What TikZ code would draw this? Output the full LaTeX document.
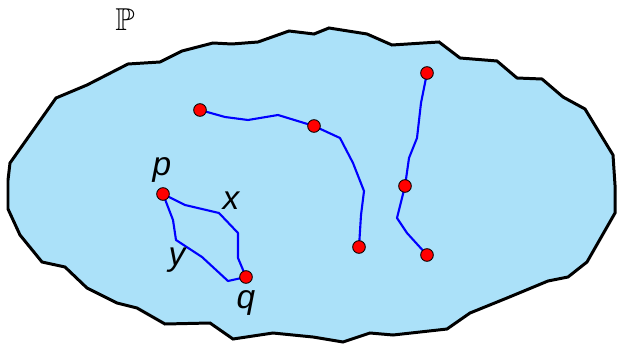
\documentclass[tikz,border=0pt]{standalone}
\usepackage{amssymb}
\usepackage{fontspec}
\setsansfont{Liberation Sans}
\definecolor{regionblue}{HTML}{ABE1F9}
\definecolor{dotred}{HTML}{FF0000}
\begin{document}
\begin{tikzpicture}[x=0.02cm,y=-0.02cm,
  region/.style={draw=black,line width=1.7pt,fill=regionblue,line join=miter},
  curve/.style={draw=blue,line width=1.2pt,line join=round},
  pt/.style={circle,draw=black,line width=0.5pt,fill=dotred,inner sep=0pt,minimum size=7.2pt},
  lbl/.style={font=\fontsize{19}{21}\selectfont\sffamily\itshape,inner sep=0pt}]
\useasboundingbox (0,0) rectangle (618,344);
% region outline
\draw[region] (10,163) -- (56,98) -- (87,85) -- (128,64) -- (160,62) -- (182,51) -- (213,43) -- (232,44) -- (258,42) -- (289,31) -- (314,34) -- (329,28) -- (367,34) -- (392,45) -- (439,42) -- (460,58) -- (497,61) -- (517,78) -- (542,79) -- (563,97) -- (585,109) -- (613,155) -- (615,185) -- (615,213) -- (587,262) -- (568,277) -- (548,281) -- (507,298) -- (470,313) -- (447,329) -- (393,335) -- (370,333) -- (343,342) -- (313,337) -- (273,333) -- (233,339) -- (210,323) -- (165,324) -- (137,308) -- (117,303) -- (87,288) -- (65,267) -- (42,262) -- (20,235) -- (8,209) -- (8,180) -- cycle;
% title
\node (P) at (125,20) {\fontsize{18}{20}\selectfont$\mathbb{P}$};
% point positions
\coordinate (a1) at (200,110);
\coordinate (a2) at (314,126);
\coordinate (a3) at (359,247);
\coordinate (b1) at (427,73);
\coordinate (b2) at (405,186);
\coordinate (b3) at (427,255);
\coordinate (p) at (163,194);
\coordinate (q) at (246,277);
% curves
\draw[curve] (a1) -- (225,117) -- (248,120) -- (278,115) -- (a2);
\draw[curve] (a2) -- (340,138) -- (353,163) -- (364,191) -- (361,215) -- (a3);
\draw[curve] (b1) -- (421,103) -- (417,138) -- (409,158) -- (b2);
\draw[curve] (b2) -- (397,218) -- (407,233) -- (b3);
\draw[curve] (p) -- (185,205) -- (219,213) -- (238,233) -- (238,258) -- (q);
\draw[curve] (p) -- (173,220) -- (176,240) -- (202,257) -- (228,281) -- (q);
% dots on top
\node[pt] (da1) at (a1) {};
\node[pt] (da2) at (a2) {};
\node[pt] (da3) at (a3) {};
\node[pt] (db1) at (b1) {};
\node[pt] (db2) at (b2) {};
\node[pt] (db3) at (b3) {};
\node[pt] (dp) at (p) {};
\node[pt] (dq) at (q) {};
% labels
\node[lbl] (lp) at (162,170) {p};
\node[lbl] (lx) at (231,201) {x};
\node[lbl] (ly) at (177,260) {y};
\node[lbl] (lq) at (246,303) {q};
\end{tikzpicture}
\end{document}
